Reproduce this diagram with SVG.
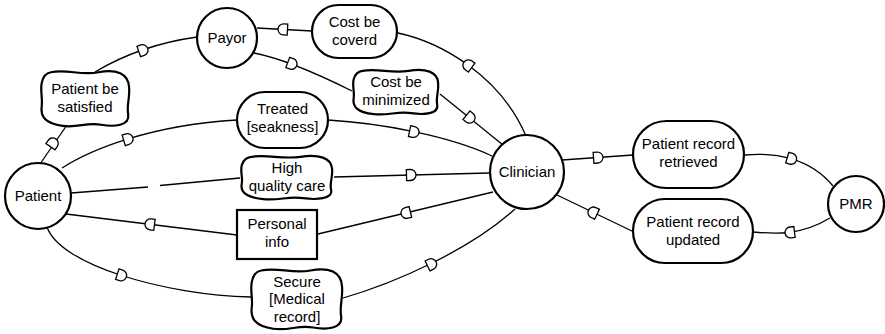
<svg xmlns="http://www.w3.org/2000/svg" xmlns:xlink="http://www.w3.org/1999/xlink" width="885" height="334" viewBox="0 0 885 334">
  <style>
    .link { fill: none; stroke: #000; stroke-width: 1.3; }
    .dep { fill: #fff; stroke: #000; stroke-width: 1.3; }
    .shape { fill: #fff; stroke: #000; stroke-width: 2.2; }
    text { font-family: "Liberation Sans", Arial, sans-serif; font-size: 15px; fill: #000; text-anchor: middle; }
  </style>
  <defs>
    <!-- dependency "D": flat edge on the depender side, round side toward the dependee -->
    <path id="d" class="dep" d="M-4.5,-5.5 H-0.5 A5.5,5.5 0 0 1 -0.5,5.5 H-4.5 Z"/>
    <!-- softgoal cloud in a 100x100 box -->
    <path id="cloud" d="M12,4 C30,-2 45,10 65,4 C85,-2 98,6 99,30 C100,50 96,62 98,78 C100,98 82,100 68,96 C52,91 42,102 25,98 C6,94 0,82 2,62 C3,48 0,36 2,22 C4,8 8,5 12,4 Z" fill="#fff" stroke="#000" stroke-width="2.2" vector-effect="non-scaling-stroke"/>
  </defs>

  <g id="connectors">
    <path class="link" d="M40,164 L67,125"/>
    <use xlink:href="#d" transform="translate(53,143) rotate(-55)"/>

    <path class="link" d="M95,72 Q140,45 197,37"/>
    <use xlink:href="#d" transform="translate(143,50) rotate(-19)"/>

    <path class="link" d="M257,28 L312,31"/>
    <use xlink:href="#d" transform="translate(283,29.4) rotate(183)"/>

    <path class="link" d="M254,53 Q290,60 352,91"/>
    <use xlink:href="#d" transform="translate(292,64) rotate(20.5)"/>

    <path class="link" d="M398,33 C440,42 500,75 526,136"/>
    <use xlink:href="#d" transform="translate(468,65) rotate(216)"/>

    <path class="link" d="M440,94 L503,145"/>
    <use xlink:href="#d" transform="translate(470,118) rotate(39)"/>

    <path class="link" d="M62,168 C90,150 150,125 237,120"/>
    <use xlink:href="#d" transform="translate(128,139) rotate(-17)"/>

    <path class="link" d="M328,120 C380,123 450,136 492,156"/>
    <use xlink:href="#d" transform="translate(414,132) rotate(12)"/>

    <path class="link" d="M71,193 L148,187 M160,185.5 L240,178"/>

    <path class="link" d="M334,177 L489,173"/>
    <use xlink:href="#d" transform="translate(411,175) rotate(-1.5)"/>

    <path class="link" d="M66,214 L237,235"/>
    <use xlink:href="#d" transform="translate(150,224.3) rotate(187)"/>

    <path class="link" d="M318,234 L493,192"/>
    <use xlink:href="#d" transform="translate(406,213) rotate(166.5)"/>

    <path class="link" d="M47,227 C60,265 165,295 251,297"/>
    <use xlink:href="#d" transform="translate(121.6,275.5) rotate(18)"/>

    <path class="link" d="M343,298 C395,283 470,250 515,209"/>
    <use xlink:href="#d" transform="translate(431.6,264) rotate(-26)"/>

    <path class="link" d="M562,160 L633,155"/>
    <use xlink:href="#d" transform="translate(598,157.5) rotate(-4)"/>

    <path class="link" d="M557,195 L634,232"/>
    <use xlink:href="#d" transform="translate(593,212.3) rotate(205.7)"/>

    <path class="link" d="M745,155 C775,152 810,158 833,186"/>
    <use xlink:href="#d" transform="translate(791.6,158.9) rotate(17)"/>

    <path class="link" d="M753,232 C775,234 800,236 830,218"/>
    <use xlink:href="#d" transform="translate(790,232.5) rotate(173)"/>
  </g>

  <g id="payor">
    <circle class="shape" cx="227" cy="38" r="30"/>
    <text x="227" y="43">Payor</text>
  </g>
  <g id="patient">
    <circle class="shape" cx="38" cy="196" r="33"/>
    <text x="38" y="201">Patient</text>
  </g>
  <g id="clinician">
    <circle class="shape" cx="527" cy="172" r="37"/>
    <text x="527" y="177">Clinician</text>
  </g>
  <g id="pmr">
    <circle class="shape" cx="856" cy="204" r="28"/>
    <text x="856" y="209">PMR</text>
  </g>

  <g id="patient-be-satisfied">
    <use xlink:href="#cloud" transform="translate(40,70) scale(0.9,0.57)"/>
    <text x="85" y="94">Patient be</text>
    <text x="85" y="112">satisfied</text>
  </g>
  <g id="cost-be-coverd">
    <rect class="shape" x="312" y="5" width="85" height="53" rx="26.5"/>
    <text x="354.5" y="27">Cost be</text>
    <text x="354.5" y="45">coverd</text>
  </g>
  <g id="cost-be-minimized">
    <use xlink:href="#cloud" transform="translate(352,69) scale(0.87,0.46)"/>
    <text x="396" y="87">Cost be</text>
    <text x="396" y="105">minimized</text>
  </g>
  <g id="treated-seakness">
    <rect class="shape" x="237" y="92" width="91" height="56" rx="28"/>
    <text x="282.5" y="114">Treated</text>
    <text x="282.5" y="132">[seakness]</text>
  </g>
  <g id="high-quality-care">
    <use xlink:href="#cloud" transform="translate(240,155) scale(0.93,0.45)"/>
    <text x="287" y="173">High</text>
    <text x="287" y="191">quality care</text>
  </g>
  <g id="personal-info">
    <rect class="shape" x="237" y="210" width="80" height="49"/>
    <text x="277" y="229">Personal</text>
    <text x="277" y="247">info</text>
  </g>
  <g id="secure-medical-record">
    <use xlink:href="#cloud" transform="translate(250,268) scale(0.93,0.62)"/>
    <text x="297" y="287">Secure</text>
    <text x="297" y="304">[Medical</text>
    <text x="297" y="322">record]</text>
  </g>
  <g id="patient-record-retrieved">
    <rect class="shape" x="633" y="121" width="111" height="67" rx="33.5"/>
    <text x="688.5" y="149">Patient record</text>
    <text x="688.5" y="167">retrieved</text>
  </g>
  <g id="patient-record-updated">
    <rect class="shape" x="633" y="199" width="120" height="64" rx="32"/>
    <text x="693" y="227">Patient record</text>
    <text x="693" y="245">updated</text>
  </g>
</svg>
